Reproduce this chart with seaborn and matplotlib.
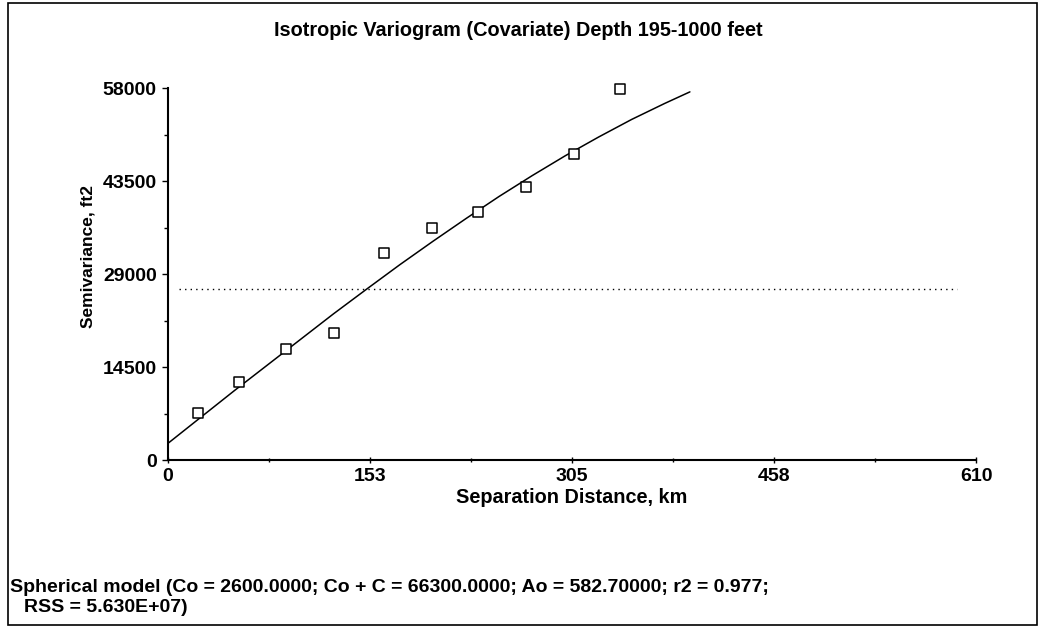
import matplotlib
matplotlib.use('Agg')

import seaborn as sns
import pandas
import matplotlib.pyplot as plt
from matplotlib.ticker import FixedLocator, MultipleLocator
from matplotlib.patches import Rectangle

# experimental semivariogram (lag distance, semivariance)
lag_km = [22.4, 53.6, 89.3, 125.1, 163.1, 199.1, 234.3, 270.0, 306.7, 341.5]
semivar = [7400, 12200, 17250, 19750, 32300, 36200, 38700, 42500, 47700, 57800]

# spherical model curve
model_km = [0, 25, 50, 75, 100, 125, 150, 175, 200, 225, 250, 275, 300, 325, 350, 375, 394]
model_gamma = [2600, 6700, 10800, 14800, 18800, 22800, 26650, 30450, 34100, 37650,
               41100, 44350, 47450, 50350, 53100, 55600, 57400]

sample_var = 26600
sill_line_span = (8, 596)

x_ticks = [0, 152.5, 305, 457.5, 610]
x_tick_labels = ['0', '153', '305', '458', '610']
y_ticks = [0, 14500, 29000, 43500, 58000]
y_tick_labels = ['0', '14500', '29000', '43500', '58000']

title = 'Isotropic Variogram (Covariate) Depth 195-1000 feet'
x_label = 'Separation Distance, km'
y_label = 'Semivariance, ft2'
footer_1 = 'Spherical model (Co = 2600.0000; Co + C = 66300.0000; Ao = 582.70000; r2 = 0.977;'
footer_2 = 'RSS = 5.630E+07)'

sns.set_theme(style='ticks')
plt.rcParams['font.family'] = ['Liberation Sans', 'DejaVu Sans']
plt.rcParams['font.weight'] = 'bold'
for key in ['text.color', 'axes.labelcolor', 'xtick.color', 'ytick.color']:
    plt.rcParams[key] = 'black'

points = pandas.DataFrame({'lag': lag_km, 'gamma': semivar})
model = pandas.DataFrame({'lag': model_km, 'gamma': model_gamma})

fig = plt.figure(figsize=(10.4, 6.27), dpi=100)
ax = fig.add_axes([0.1615, 0.2663, 0.777, 0.5933])

ax.hlines(sample_var, sill_line_span[0], sill_line_span[1], colors='black',
          linestyles=(0, (1, 3)), linewidth=1)
sns.lineplot(data=model, x='lag', y='gamma', ax=ax, color='black', linewidth=1.1,
             sort=False, estimator=None)
sns.scatterplot(data=points, x='lag', y='gamma', ax=ax, marker='s', s=55,
                facecolor='white', edgecolor='black', linewidth=1.1, zorder=3,
                clip_on=False)

ax.set_xlim(0, 610)
ax.set_ylim(0, 58000)
ax.xaxis.set_major_locator(FixedLocator(x_ticks))
ax.set_xticklabels(x_tick_labels)
ax.xaxis.set_minor_locator(MultipleLocator(76.25))
ax.yaxis.set_major_locator(FixedLocator(y_ticks))
ax.set_yticklabels(y_tick_labels)
ax.yaxis.set_minor_locator(MultipleLocator(7250))

ax.tick_params(axis='both', which='major', length=4, width=1, color='black',
               labelsize=14, pad=4, labelcolor='black')
ax.tick_params(axis='x', which='both', direction='inout')
ax.tick_params(axis='both', which='minor', length=3, width=1, color='black')
for lab in ax.get_xticklabels() + ax.get_yticklabels():
    lab.set_fontweight('bold')

sns.despine(ax=ax)
for side in ['left', 'bottom']:
    ax.spines[side].set_color('black')
    ax.spines[side].set_linewidth(1.5)

ax.set_xlabel(x_label, fontsize=14.3, fontweight='bold', color='black')
ax.set_ylabel(y_label, fontsize=12.5, fontweight='bold', color='black')
ax.xaxis.set_label_coords(0.5, -0.0995)
ax.xaxis.label.set_va('center')
ax.yaxis.set_label_coords(-0.099, 0.548)
ax.yaxis.label.set_va('center')

fig.text(0.498, 0.952, title, ha='center', va='center', fontsize=14.3, fontweight='bold')
fig.text(0.010, 1 - 588 / 627, footer_1, ha='left', va='center', fontsize=14,
         fontweight='bold')
fig.text(0.023, 1 - 608 / 627, footer_2, ha='left', va='center', fontsize=14,
         fontweight='bold')

fig.patches.append(Rectangle((0.008, 0.003), 0.989, 0.992, transform=fig.transFigure,
                             fill=False, edgecolor='black', linewidth=1.2))

fig.savefig('out.png', dpi=100)
plt.close('all')
